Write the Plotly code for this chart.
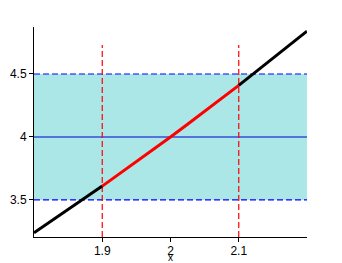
import plotly.graph_objects as go

# curve points (y = x^2 shape)
x_left = [1.80, 1.825, 1.85, 1.875, 1.90]
y_left = [3.24, 3.331, 3.423, 3.516, 3.61]
x_mid = [1.90, 1.925, 1.95, 1.975, 2.00, 2.025, 2.05, 2.075, 2.10]
y_mid = [3.61, 3.706, 3.803, 3.901, 4.00, 4.101, 4.203, 4.306, 4.41]
x_right = [2.10, 2.125, 2.15, 2.175, 2.20]
y_right = [4.41, 4.516, 4.623, 4.731, 4.84]

x_ticks = [1.9, 2.0, 2.1]
x_ticklabels = ["1.9", "2", "2.1"]
y_ticks = [3.5, 4.0, 4.5]
y_ticklabels = ["3.5", "4", "4.5"]

band = [3.5, 4.5]
center_y = 4.0
vlines = [1.9, 2.1]
vline_top = 4.73
x_range = [1.8, 2.2]
y_range = [3.206, 4.873]
x_label = "x"

fig = go.Figure()

shapes = [
    dict(type="rect", xref="x", yref="y", x0=x_range[0], x1=x_range[1],
         y0=band[0], y1=band[1], fillcolor="rgb(172,231,231)",
         line=dict(width=0), layer="below"),
]
for yb in band:
    shapes.append(dict(type="line", xref="x", yref="y", x0=x_range[0], x1=x_range[1],
                       y0=yb, y1=yb, line=dict(color="rgb(0,0,255)", width=1.2, dash="6px,3px"),
                       layer="below"))
shapes.append(dict(type="line", xref="x", yref="y", x0=x_range[0], x1=x_range[1],
                   y0=center_y, y1=center_y, line=dict(color="rgb(0,0,210)", width=1.2),
                   layer="below"))
for xv in vlines:
    shapes.append(dict(type="line", xref="x", yref="y", x0=xv, x1=xv,
                       y0=y_range[0], y1=vline_top,
                       line=dict(color="rgb(255,0,0)", width=1.2, dash="6px,3px"),
                       layer="below"))

fig.add_trace(go.Scatter(x=x_left, y=y_left, mode="lines",
                         line=dict(color="black", width=3), showlegend=False))
fig.add_trace(go.Scatter(x=x_right, y=y_right, mode="lines",
                         line=dict(color="black", width=3), showlegend=False))
fig.add_trace(go.Scatter(x=x_mid, y=y_mid, mode="lines",
                         line=dict(color="rgb(255,0,0)", width=3), showlegend=False))

fig.add_annotation(x=2.0, xref="x", y=0, yref="paper", yshift=-20,
                   text=x_label, showarrow=False, yanchor="middle",
                   font=dict(size=10, color="black"))

fig.update_layout(
    width=342, height=263,
    margin=dict(l=34, r=35, t=27, b=26, autoexpand=False),
    paper_bgcolor="white", plot_bgcolor="white",
    font=dict(family="Liberation Sans, Arial, sans-serif", size=12, color="black"),
    shapes=shapes,
    xaxis=dict(range=x_range, showgrid=False, zeroline=False, showline=True,
               linecolor="black", linewidth=1, ticks="outside", ticklen=4,
               tickcolor="black", tickvals=x_ticks, ticktext=x_ticklabels,
               tickfont=dict(size=12), automargin=False, ticklabelstandoff=-1),
    yaxis=dict(range=y_range, showgrid=False, zeroline=False, showline=True,
               linecolor="black", linewidth=1, ticks="outside", ticklen=4,
               tickcolor="black", tickvals=y_ticks, ticktext=y_ticklabels,
               tickfont=dict(size=12), automargin=False),
)

fig.write_html("out.html")
